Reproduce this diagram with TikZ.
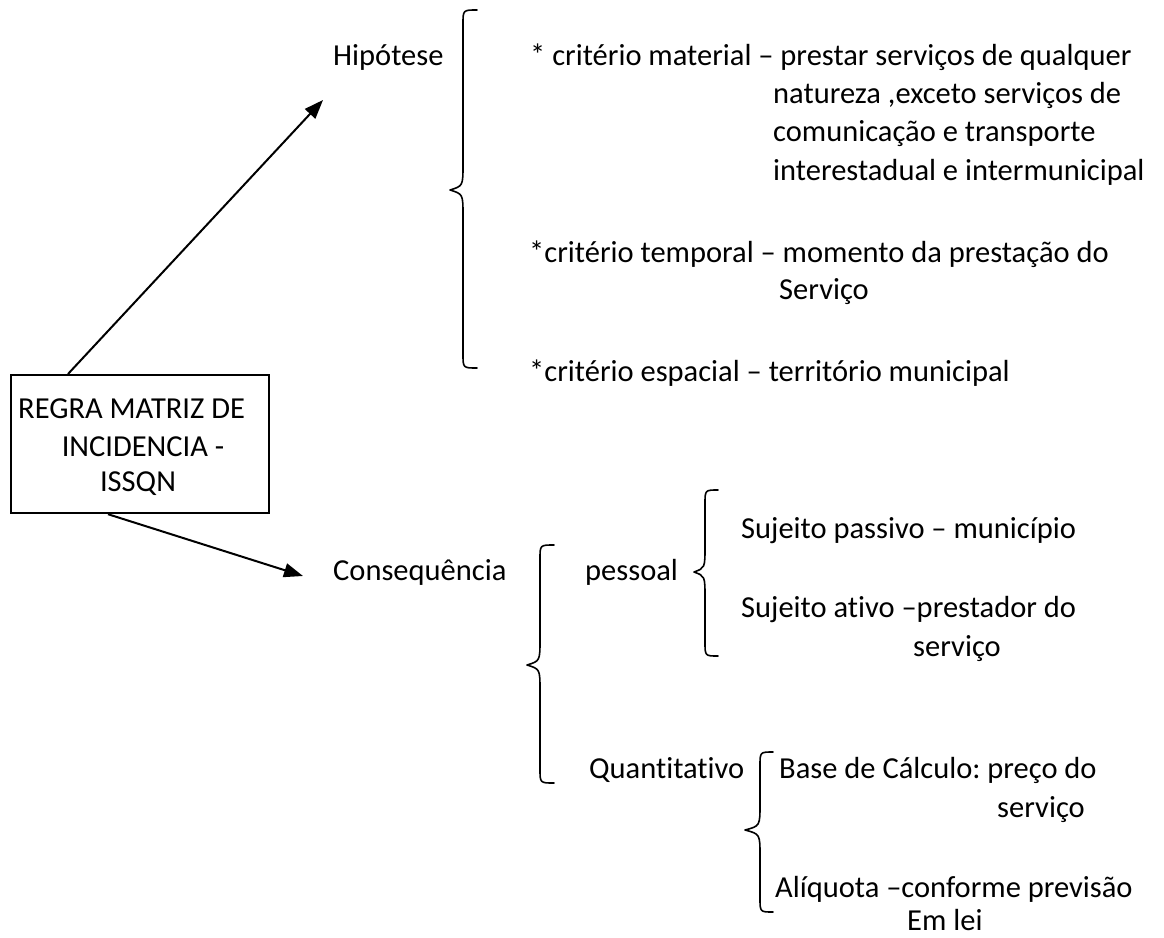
\documentclass[tikz,border=0pt]{standalone}
\usepackage{fontspec}
\setmainfont[Ligatures={NoCommon,NoRequired,NoContextual}]{Carlito}
\usetikzlibrary{arrows.meta,calc}
\frenchspacing
\tikzset{
  txt/.style={inner sep=0pt,anchor=base west,font=\fontsize{30.5}{37}\selectfont},
  ctxt/.style={inner sep=0pt,anchor=base,font=\fontsize{30.5}{37}\selectfont},
  bracestyle/.style={line width=1.6pt,line cap=round,line join=round},
  arrowstyle/.style={line width=2pt,-{Triangle[length=19pt,width=14pt]}},
  boxstyle/.style={draw,line width=2.2pt,minimum width=258pt,minimum height=138pt,inner sep=0pt,anchor=north west}
}
\newcommand\mybrace[6]{%
  \draw[bracestyle] ({#3},{#4}) .. controls ({#2},{#4}) .. ({#2},{#4+14})
    -- ({#2},{#5-26}) .. controls ({#2},{#5-4}) .. ({#1},{#5})
    .. controls ({#2},{#5+4}) .. ({#2},{#5+26})
    -- ({#2},{#6-14}) .. controls ({#2},{#6}) .. ({#3},{#6});}
\begin{document}
\begin{tikzpicture}[x=1pt,y=-1pt]
\useasboundingbox (0,0) rectangle (1164,937);
% box
\node[boxstyle] (box) at (10,374) {};
\node[txt] (b1) at (18,418) {REGRA MATRIZ DE};
\node[ctxt] (b2) at (143,456) {INCIDENCIA -};
\node[ctxt] (b3) at (138,491) {ISSQN};
% arrows
\coordinate (a1) at (323,100);
\coordinate (a2) at (303,576);
\draw[arrowstyle] ($(box.north west)+(58,0)$) -- (a1);
\draw[arrowstyle] ($(box.south west)+(98,0)$) -- (a2);
% Hipotese
\node[txt] (hip) at (333,65) {Hipótese};
\mybrace{450}{463}{477}{10}{190}{368}
\node[txt] (m1) at (530,65) {* critério material – prestar serviços de qualquer};
\node[txt] (m2) at (773,103) {natureza ,exceto serviços de};
\node[txt] (m3) at (773,141) {comunicação e transporte};
\node[txt] (m4) at (773,180) {interestadual e intermunicipal};
\node[txt] (t1) at (529,262) {*critério temporal – momento da prestação do};
\node[txt] (t2) at (779,299) {Serviço};
\node[txt] (e1) at (529,381) {*critério espacial – território municipal};
% Consequencia
\node[txt] (cons) at (333,580) {Consequência};
\mybrace{527}{540}{554}{545}{665}{783}
\node[txt] (pes) at (585,580) {pessoal};
\mybrace{694}{705}{718}{490}{572}{656}
\node[txt] (sp) at (741,538) {Sujeito passivo – município};
\node[txt] (sa) at (741,617) {Sujeito ativo –prestador do};
\node[txt] (sa2) at (913,656) {serviço};
\node[txt] (qt) at (589,778) {Quantitativo};
\mybrace{745}{760}{773}{752}{830}{912}
\node[txt] (bc) at (779,778) {Base de Cálculo: preço do};
\node[txt] (bc2) at (997,817) {serviço};
\node[txt] (al) at (775,897) {Alíquota –conforme previsão};
\node[txt] (al2) at (907,930) {Em lei};
\end{tikzpicture}
\end{document}
